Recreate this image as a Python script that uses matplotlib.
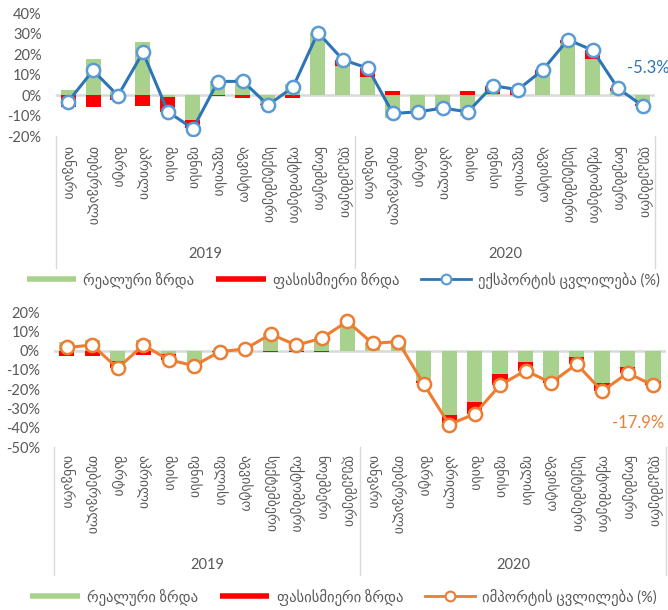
import numpy as np
import matplotlib
matplotlib.use("Agg")
import matplotlib.pyplot as plt
from matplotlib.lines import Line2D
from matplotlib.ticker import FuncFormatter

plt.rcParams['font.family'] = ['Lato', 'DejaVu Sans']

months = ['იანვარი', 'თებერვალი', 'მარტი', 'აპრილი', 'მაისი', 'ივნისი',
          'ივლისი', 'აგვისტო', 'სექტემბერი', 'ოქტომბერი', 'ნოემბერი', 'დეკემბერი']
years = ['2019', '2020']
labels = months * 2

# exports, % change y/y, split into real and price growth
exp_real = [2.5, 17.8, 2.2, 26.0, -1.0, -12.3, 7.0, 8.3, -4.5, 5.2, 30.5, 14.1,
            8.7, -11.0, -7.9, -5.7, -10.4, 0.5, -0.5, 9.6, 25.5, 17.7, 1.8, -4.6]
exp_price = [-5.8, -5.8, -2.5, -5.2, -7.2, -4.0, -0.4, -1.6, -0.4, -1.4, 0.0, 3.1,
             4.4, 2.0, -0.3, -0.7, 2.1, 4.1, 3.1, 2.7, 1.5, 4.1, 1.5, -0.7]
exp_total = [-3.3, 12.0, -0.3, 20.8, -8.2, -16.4, 6.6, 6.7, -4.9, 3.8, 30.5, 17.2,
             13.1, -9.0, -8.2, -6.4, -8.2, 4.6, 2.6, 12.3, 27.0, 21.8, 3.3, -5.3]

# imports
imp_real = [4.3, 5.8, -5.3, 5.3, -1.5, -6.5, -0.3, 1.3, 9.4, 3.8, 7.3, 15.2,
            3.8, 4.7, -15.5, -33.5, -26.5, -12.0, -5.8, -14.5, -3.1, -16.9, -8.6, -15.6]
imp_price = [-2.5, -2.9, -3.8, -2.4, -3.2, -1.3, -0.2, -0.5, -0.6, -0.8, -0.8, 0.0,
             0.0, 0.0, -1.5, -4.7, -6.3, -5.7, -4.5, -2.2, -3.8, -4.1, -3.0, -2.3]
imp_total = [1.7, 2.9, -9.1, 2.9, -4.7, -7.8, -0.5, 0.9, 8.6, 2.9, 6.4, 15.2,
             3.8, 4.7, -17.2, -38.3, -32.8, -17.8, -10.3, -16.7, -6.9, -21.0, -11.6, -17.9]

GREEN = '#a9d18e'
RED = '#ff0000'
GREY = '#595959'
LINEGREY = '#d9d9d9'


def draw_panel(ax, real, price, total, ylim, line_color, edge_color, lbl_pad, sep_len, year_y):
    x = np.arange(len(real))
    real = np.array(real)
    price = np.array(price)
    # stacked like Excel: same-sign parts pile on top of each other
    price_bottom = np.where(np.sign(price) == np.sign(real), real, 0)
    ax.axhline(0, color=LINEGREY, lw=1.8, zorder=1)
    ax.bar(x, real, width=0.6, color=GREEN, zorder=2)
    ax.bar(x, price, width=0.6, bottom=price_bottom, color=RED, zorder=2)
    ax.plot(x, total, color=line_color, lw=2.2, marker='o', ms=9.5, mfc='white',
            mec=edge_color, mew=1.8, zorder=3)

    ax.set_xlim(-0.5, len(real) - 0.5)
    ax.set_ylim(*ylim)
    ax.set_yticks(np.arange(ylim[0], ylim[1] + 1, 10))
    ax.yaxis.set_major_formatter(FuncFormatter(lambda v, p: f'{v:.0f}%'))
    ax.tick_params(axis='y', length=0, pad=10, labelsize=10.5, labelcolor=GREY)
    ax.set_xticks(x)
    ax.set_xticklabels(labels, rotation=-90, va='top', ha='center')
    ax.tick_params(axis='x', length=0, pad=lbl_pad, labelsize=10, labelcolor=GREY)
    for s in ax.spines.values():
        s.set_visible(False)

    # two-level category axis: separators and year captions
    trans = ax.get_xaxis_transform()
    for xs in [-0.5, 11.5, 23.5]:
        ax.plot([xs, xs], [0, -sep_len], color=LINEGREY, lw=1, transform=trans, clip_on=False)
    for i, yr in enumerate(years):
        ax.text(5.5 + 12 * i, year_y, yr, transform=trans, ha='center', va='center',
                fontsize=10.5, color=GREY)


def add_legend(y, line_color, edge_color, line_label):
    handles = [Line2D([], [], color=GREEN, lw=4, solid_capstyle='butt'),
               Line2D([], [], color=RED, lw=4, solid_capstyle='butt'),
               Line2D([], [], color=line_color, lw=2.0, marker='o', ms=7, mfc='white',
                      mec=edge_color, mew=1.5)]
    names = ['რეალური ზრდა', 'ფასისმიერი ზრდა', line_label]
    fig.legend(handles, names, loc='center', bbox_to_anchor=(0.514, y), ncol=3,
               frameon=False, fontsize=10.5, labelcolor=GREY, handlelength=3.4,
               handletextpad=0.5, columnspacing=1.5, numpoints=1)


fig = plt.figure(figsize=(6.68, 6.10), dpi=100)

ax1 = fig.add_axes([0.0831, 0.777, 0.898, 0.2016])
draw_panel(ax1, exp_real, exp_price, exp_total, (-20, 40), '#2e75b6', '#5b9bd5',
           lbl_pad=7, sep_len=1.07, year_y=-0.96)
ax1.text(23.2, 13.2, f'{exp_total[-1]:.1f}%', ha='center', va='center',
         fontsize=12, color='#2e75b6', clip_on=False)
add_legend(1 - 280 / 610, '#2e75b6', '#5b9bd5', 'ექსპორტის ცვლილება (%)')

ax2 = fig.add_axes([0.0808, 0.267, 0.916, 0.2213])
draw_panel(ax2, imp_real, imp_price, imp_total, (-50, 20), '#ed7d31', '#ed7d31',
           lbl_pad=6, sep_len=0.95, year_y=-0.874)
ax2.text(22.4, -37.3, f'{imp_total[-1]:.1f}%', ha='center', va='center',
         fontsize=12, color='#ed7d31', clip_on=False)
add_legend(1 - 597 / 610, '#ed7d31', '#ed7d31', 'იმპორტის ცვლილება (%)')

plt.savefig('out.png', dpi=100)
plt.close()
